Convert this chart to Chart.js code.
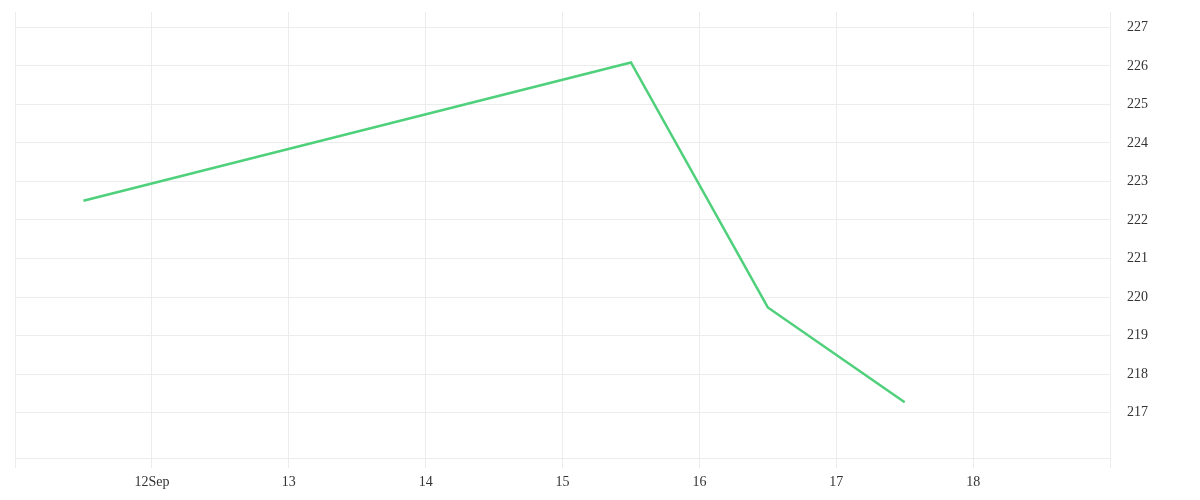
<!DOCTYPE html>
<html>
<head>
<meta charset="utf-8">
<script src="https://cdn.jsdelivr.net/npm/chart.js@4/dist/chart.umd.min.js"></script>
<style>
  html, body { margin: 0; padding: 0; background: #fff; }
  #wrap { width: 1200px; height: 500px; }
</style>
</head>
<body>
<div id="wrap"><canvas id="priceChart"></canvas></div>
<script>
// day positions (day of September, points sit at mid-day)
const xValues = [11.5, 15.5, 16.5, 17.5];
const yValues = [222.5, 226.09, 219.73, 217.27];

// axis ticks
const xTicks = [11, 12, 13, 14, 15, 16, 17, 18, 19];
const xTickLabels = ['', '12Sep', '13', '14', '15', '16', '17', '18', ''];
const yTicks = [217, 218, 219, 220, 221, 222, 223, 224, 225, 226, 227];

const gridColor = '#ececec';
const tickFont = { family: '"Liberation Serif", "DejaVu Serif", serif', size: 14 };

const ctx = document.getElementById('priceChart').getContext('2d');
new Chart(ctx, {
  type: 'line',
  data: {
    datasets: [{
      data: xValues.map((x, i) => ({ x: x, y: yValues[i] })),
      borderColor: '#4fd07b',
      borderWidth: 2.5,
      pointRadius: 0,
      tension: 0,
      fill: false
    }]
  },
  options: {
    responsive: true,
    maintainAspectRatio: false,
    animation: false,
    layout: { padding: { left: 15, top: 12, right: 0, bottom: 0 } },
    plugins: {
      legend: { display: false },
      tooltip: { enabled: false }
    },
    scales: {
      x: {
        type: 'linear',
        min: 11,
        max: 19,
        afterBuildTicks: axis => { axis.ticks = xTicks.map(v => ({ value: v })); },
        afterFit: axis => {
          axis.height = 42;
          axis.paddingLeft = 0;
          axis.paddingRight = 0;
        },
        grid: { color: gridColor, drawTicks: true, tickLength: 10, tickColor: gridColor },
        border: { display: true, color: gridColor },
        ticks: {
          color: '#333',
          font: tickFont,
          padding: 6,
          maxRotation: 0,
          autoSkip: false,
          callback: (v) => {
            const i = xTicks.indexOf(v);
            return i >= 0 ? xTickLabels[i] : '';
          }
        }
      },
      y: {
        position: 'right',
        min: 215.82,
        max: 227.4,
        afterBuildTicks: axis => { axis.ticks = yTicks.map(v => ({ value: v })); },
        afterFit: axis => {
          axis.width = 90;
          axis.paddingTop = 0;
          axis.paddingBottom = 0;
        },
        grid: { color: gridColor, drawTicks: false },
        border: { display: true, color: gridColor },
        ticks: {
          color: '#333',
          font: tickFont,
          padding: 17,
          crossAlign: 'near'
        }
      }
    }
  }
});
</script>
</body>
</html>
